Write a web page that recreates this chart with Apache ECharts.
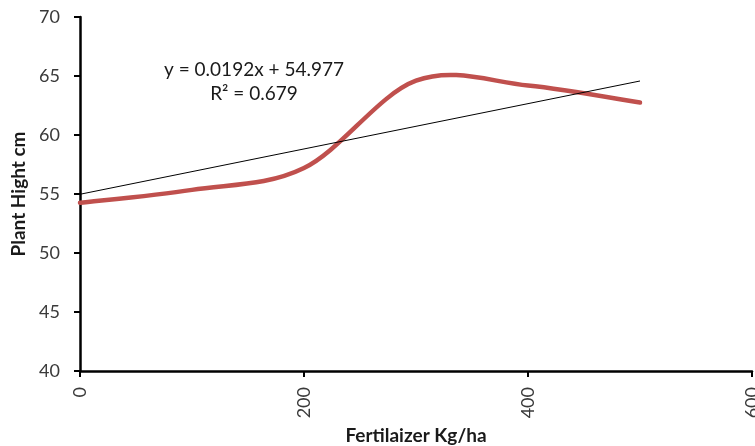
<!DOCTYPE html>
<html><head><meta charset="utf-8">
<script src="https://cdn.jsdelivr.net/npm/echarts@6/dist/echarts.min.js"></script>
<style>html,body{margin:0;padding:0;background:#fff}#c{width:755px;height:446px}</style>
</head><body><div id="c"></div>
<script>
// Data
const fertilizer = [0, 100, 200, 300, 400, 500];
const plantHeight = [54.25, 55.35, 57.2, 64.6, 64.2, 62.75];
// Linear trendline (as printed on the chart)
const trendSlope = 0.0192;
const trendIntercept = 54.977;
const trendX = [0, 500];
const equationText = 'y = 0.0192x + 54.977';
const r2Text = 'R\u00B2 = 0.679';
const xAxisTitle = 'Fertilaizer Kg/ha';
const yAxisTitle = 'Plant Hight cm';

const FONT = 'Lato, "Open Sans", sans-serif';
const chart = echarts.init(document.getElementById('c'), null, {renderer: 'canvas'});
const curveData = fertilizer.map((x, i) => [x, plantHeight[i]]);
const trendData = trendX.map(x => [x, trendSlope * x + trendIntercept]);

// Spreadsheet-style smoothed line: Catmull-Rom spline converted to Bezier,
// positions obtained from the chart's own coordinate system (api.coord).
function renderSmooth(params, api) {
  if (params.dataIndex !== 0) return null;
  const p = curveData.map(d => api.coord(d));
  const path = [['M', p[0][0], p[0][1]].join(' ')];
  for (let i = 0; i < p.length - 1; i++) {
    const p0 = p[i - 1] || p[i], p1 = p[i], p2 = p[i + 1], p3 = p[i + 2] || p[i + 1];
    const c1x = p1[0] + (p2[0] - p0[0]) / 6, c1y = p1[1] + (p2[1] - p0[1]) / 6;
    const c2x = p2[0] - (p3[0] - p1[0]) / 6, c2y = p2[1] - (p3[1] - p1[1]) / 6;
    path.push(['C', c1x, c1y, c2x, c2y, p2[0], p2[1]].join(' '));
  }
  return {
    type: 'path',
    shape: {pathData: path.join(' ')},
    style: {fill: 'none', stroke: '#C0504D', lineWidth: 4.5, lineCap: 'round', lineJoin: 'round'}
  };
}

chart.setOption({
  animation: false,
  backgroundColor: '#fff',
  grid: {left: 80, right: 3, top: 17, bottom: 75, containLabel: false, outerBoundsMode: 'none'},
  xAxis: {
    type: 'value', min: 0, max: 600, interval: 200,
    name: xAxisTitle, nameLocation: 'middle', nameGap: 53,
    nameTextStyle: {fontFamily: FONT, fontWeight: 'bold', fontSize: 19, color: '#1a1a1a'},
    axisLine: {lineStyle: {color: '#000', width: 2.5}},
    axisTick: {show: true, length: 6, lineStyle: {color: '#000', width: 2}},
    axisLabel: {rotate: 90, margin: 16, fontFamily: FONT, fontSize: 18, color: '#3a3a3a'},
    splitLine: {show: false}
  },
  yAxis: {
    type: 'value', min: 40, max: 70, interval: 5,
    name: yAxisTitle, nameLocation: 'middle', nameGap: 52,
    nameTextStyle: {fontFamily: FONT, fontWeight: 'bold', fontSize: 19, color: '#1a1a1a'},
    axisLine: {show: true, lineStyle: {color: '#000', width: 2.5}},
    axisTick: {show: true, length: 6, lineStyle: {color: '#000', width: 2}},
    axisLabel: {margin: 20, fontFamily: FONT, fontSize: 18, color: '#3a3a3a'},
    splitLine: {show: false}
  },
  graphic: [
    {type: 'text', x: 254, y: 70,
     style: {text: equationText, fontFamily: FONT, fontSize: 19, fill: '#1a1a1a', align: 'center', verticalAlign: 'middle'}},
    {type: 'text', x: 254, y: 94,
     style: {text: r2Text, fontFamily: FONT, fontSize: 19, fill: '#1a1a1a', align: 'center', verticalAlign: 'middle'}}
  ],
  series: [
    {type: 'custom', data: curveData, renderItem: renderSmooth, z: 2, silent: true},
    {type: 'line', data: trendData, showSymbol: false, z: 3,
     lineStyle: {color: '#000', width: 1}}
  ]
});
</script></body></html>
